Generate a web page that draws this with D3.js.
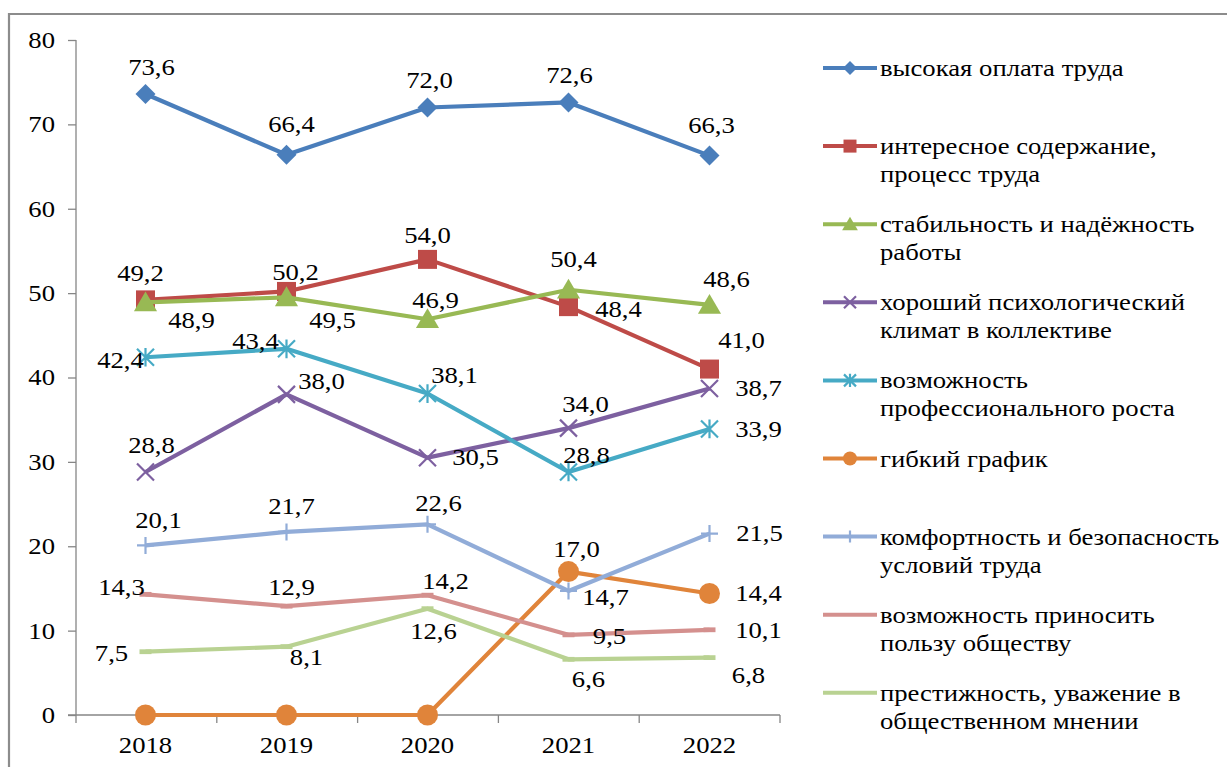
<!DOCTYPE html>
<html><head><meta charset="utf-8">
<script src="https://cdn.jsdelivr.net/npm/d3@7"></script>
<style>
body{margin:0;background:#fff}
svg text{font-family:"Liberation Serif","Times New Roman",serif;fill:#000}
</style>
</head><body>
<svg id="c" width="1227" height="767"></svg>
<script>
// ---------- DATA ----------
const years = ["2018", "2019", "2020", "2021", "2022"];
const yTicks = [0, 10, 20, 30, 40, 50, 60, 70, 80];
const seriesNames = [
  ["высокая оплата труда"],
  ["интересное содержание,", "процесс труда"],
  ["стабильность и надёжность", "работы"],
  ["хороший психологический", "климат в коллективе"],
  ["возможность", "профессионального роста"],
  ["гибкий график"],
  ["комфортность и безопасность", "условий труда"],
  ["возможность приносить", "пользу обществу"],
  ["престижность, уважение в", "общественном мнении"]
];
const highPay      = [73.6, 66.4, 72.0, 72.6, 66.3];
const interesting  = [49.2, 50.2, 54.0, 48.4, 41.0];
const stability    = [48.9, 49.5, 46.9, 50.4, 48.6];
const climate      = [28.8, 38.0, 30.5, 34.0, 38.7];
const growth       = [42.4, 43.4, 38.1, 28.8, 33.9];
const flexible     = [0, 0, 0, 17.0, 14.4];
const comfort      = [20.1, 21.7, 22.6, 14.7, 21.5];
const usefulness   = [14.3, 12.9, 14.2, 9.5, 10.1];
const prestige     = [7.5, 8.1, 12.6, 6.6, 6.8];
const seriesValues = [highPay, interesting, stability, climate, growth, flexible, comfort, usefulness, prestige];
// which values carry a data label (flexible schedule zeros have none)
const labelShown = [
  [1,1,1,1,1],[1,1,1,1,1],[1,1,1,1,1],[1,1,1,1,1],[1,1,1,1,1],
  [0,0,0,1,1],[1,1,1,1,1],[1,1,1,1,1],[1,1,1,1,1]
];

// ---------- STYLE / LAYOUT ----------
const colors = ["#4a7ebb","#be4b48","#98b954","#7d60a0","#46aac5","#e0843a","#91acd8","#d4908e","#b9d292"];
const markers = ["diamond","square","triangle","x","star","circle","plus","dash","dash"];
// label centre offsets relative to the point (px)
const labelOffsets = [
  [[6,-27],[5,-31],[2,-27],[1,-27],[2,-30]],
  [[-5,-27],[9,-19],[0,-24],[50,3],[32,-29]],
  [[46,18],[46,23],[8,-19],[5,-31],[17,-26]],
  [[6,-27],[35,-13],[48,0],[17,-24],[49,0]],
  [[-25,3],[-31,-8],[27,-18],[18,-17],[49,0]],
  [null,null,null,[8,-22],[49,0]],
  [[13,-25],[5,-26],[11,-21],[37,6],[50,0]],
  [[-24,-7],[5,-19],[18,-14],[41,1],[49,0]],
  [[-34,1],[20,11],[6,22],[20,20],[39,18]]
];
const FS = 23;        // font size
const STRETCH = 1.16; // horizontal stretch of the original rendering

const svg = d3.select("#c");
const x = d3.scalePoint().domain(years).range([75, 780]).padding(0.5);
const y = d3.scaleLinear().domain([0, 80]).range([715, 40]);

// outer frame (top and left edges visible)
svg.append("path").attr("d", "M9,767 L9,14 L1227,14")
  .attr("fill", "none").attr("stroke", "#8c8c8c").attr("stroke-width", 2.2);

// axes
const axisColor = "#868686";
const gy = svg.append("g").attr("transform", "translate(76,0)")
  .call(d3.axisLeft(y).tickValues(yTicks).tickSize(8).tickPadding(13).tickFormat(d3.format("d")));
const bandEdges = d3.range(years.length + 1).map(i => 76 + i * 140.8);
const gx = svg.append("g").attr("transform", "translate(0,715)");
gx.append("line").attr("x1", 68).attr("x2", 780).attr("y1", 0).attr("y2", 0).attr("stroke", axisColor).attr("stroke-width", 1.3);
gx.selectAll("line.t").data(bandEdges).join("line").attr("class", "t")
  .attr("x1", d => d).attr("x2", d => d).attr("y1", 0).attr("y2", 8).attr("stroke", axisColor).attr("stroke-width", 1.3);
gx.selectAll("text").data(years).join("text")
  .attr("x", d => x(d)).attr("y", 38).attr("text-anchor", "middle").attr("font-size", FS).text(d => d);
gy.select(".domain").attr("stroke", axisColor).attr("stroke-width", 1.3).attr("d", "M0,715V40");
gy.selectAll(".tick line").attr("stroke", axisColor).attr("stroke-width", 1.3);
gy.selectAll(".tick text").attr("font-size", FS).attr("font-family", "Liberation Serif").attr("fill", "#000");

function markerPath(type, s) {
  switch (type) {
    case "diamond": return `M0,${-s}L${s},0L0,${s}L${-s},0Z`;
    case "square": return `M${-s},${-s}H${s}V${s}H${-s}Z`;
    case "triangle": return `M0,${-s}L${s*1.05},${s*0.8}L${-s*1.05},${s*0.8}Z`;
    case "x": return `M${-s},${-s}L${s},${s}M${-s},${s}L${s},${-s}`;
    case "star": return `M${-s},${-s}L${s},${s}M${-s},${s}L${s},${-s}M0,${-s*1.1}V${s*1.1}`;
    case "plus": return `M${-s},0H${s}M0,${-s}V${s}`;
    case "dash": return `M${-s},${-s*0.4}H${s}V${s*0.4}H${-s}Z`;
  }
  return "";
}
function drawMarker(g, type, color, s) {
  if (type === "circle") {
    g.append("circle").attr("r", s).attr("fill", color);
  } else if (type === "x" || type === "star" || type === "plus") {
    g.append("path").attr("d", markerPath(type, s)).attr("fill", "none").attr("stroke", color).attr("stroke-width", 2.2);
  } else {
    g.append("path").attr("d", markerPath(type, s)).attr("fill", color);
  }
}
const markerSize = {diamond: 10, square: 9.5, triangle: 11, x: 8.5, star: 8.5, circle: 10.5, plus: 8.5, dash: 6};
const legendMarkerSize = {diamond: 7, square: 6.5, triangle: 7.5, x: 6, star: 6, circle: 7, plus: 6, dash: 0};

// lines + markers
const line = d3.line().x((d, i) => x(years[i])).y(d => y(d));
const plot = svg.append("g");
seriesValues.forEach((vals, si) => {
  const g = plot.append("g");
  g.append("path").datum(vals).attr("d", line).attr("fill", "none")
    .attr("stroke", colors[si]).attr("stroke-width", 4.2).attr("stroke-linejoin", "round");
  vals.forEach((v, i) => {
    const mg = g.append("g").attr("transform", `translate(${x(years[i])},${y(v)})`);
    drawMarker(mg, markers[si], colors[si], markerSize[markers[si]]);
  });
});

// data labels
const fmt = v => d3.format(".1f")(v).replace(".", ",");
const labels = svg.append("g");
seriesValues.forEach((vals, si) => {
  vals.forEach((v, i) => {
    if (!labelShown[si][i]) return;
    const off = labelOffsets[si][i];
    labels.append("text")
      .attr("x", x(years[i]) + off[0]).attr("y", y(v) + off[1] + FS * 0.34)
      .attr("text-anchor", "middle").attr("font-size", FS).text(fmt(v));
  });
});

// legend
const legend = svg.append("g");
seriesNames.forEach((lines, si) => {
  const ly = 68 + si * 78.1;
  const g = legend.append("g").attr("transform", `translate(0,${ly})`);
  g.append("line").attr("x1", 823).attr("x2", 877).attr("y1", 0).attr("y2", 0)
    .attr("stroke", colors[si]).attr("stroke-width", 4);
  const mg = g.append("g").attr("transform", "translate(850,0)");
  if (markers[si] !== "dash") drawMarker(mg, markers[si], colors[si], legendMarkerSize[markers[si]]);
  lines.forEach((t, li) => {
    g.append("text").attr("x", 880).attr("y", 8 + li * 28).attr("font-size", FS).text(t);
  });
});

// horizontal stretch to mimic the original rendering
svg.selectAll("text").each(function () {
  const w = this.getComputedTextLength();
  if (w > 0) {
    d3.select(this).attr("textLength", w * STRETCH).attr("lengthAdjust", "spacingAndGlyphs");
  }
});
</script>
</body></html>
